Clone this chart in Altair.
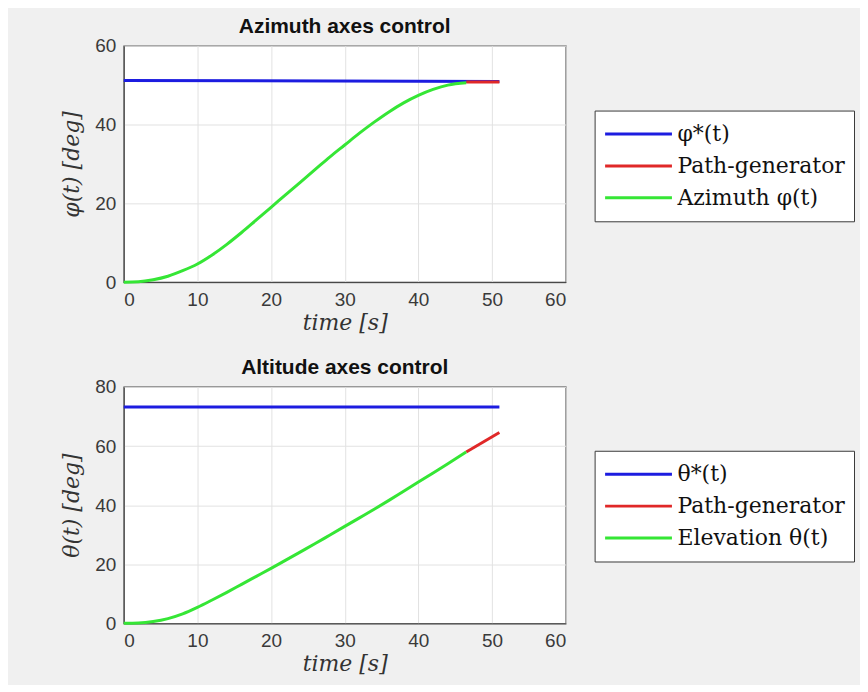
import altair as alt
import pandas as pd

# ---- data ----
az_t = [0, 2, 4, 6, 8, 10, 12, 14, 16, 18, 20, 22, 24, 26, 28, 30, 32, 34, 36, 38, 40, 42, 44, 46.5]
az_green = [0, 0.1, 0.6, 1.5, 2.9, 4.6, 6.9, 9.6, 12.6, 15.8, 19.0, 22.2, 25.4, 28.6, 31.8, 34.8,
            37.8, 40.6, 43.2, 45.5, 47.4, 48.9, 50.0, 50.6]
az_ref_t = [0, 51]
az_ref = [51.2, 50.9]
az_path_t = [46.5, 51]
az_path = [50.8, 50.8]

el_t = [0, 2, 4, 6, 8, 10, 12, 14, 16, 18, 20, 22, 24, 26, 28, 30, 32, 34, 36, 38, 40, 42, 44, 46.5]
el_green = [0, 0.1, 0.6, 1.6, 3.2, 5.4, 7.9, 10.5, 13.2, 15.9, 18.6, 21.4, 24.2, 27.0, 29.9, 32.8,
            35.7, 38.6, 41.6, 44.7, 47.8, 50.9, 54.0, 58.0]
el_ref_t = [0, 51]
el_ref = [73.2, 73.2]
el_path_t = [46.5, 51]
el_path = [58.0, 64.6]

az_labels = ["φ*(t)", "Path-generator", "Azimuth φ(t)"]
el_labels = ["θ*(t)", "Path-generator", "Elevation θ(t)"]
colors = ["#1c1ce0", "#e02828", "#35e635"]

x_ticks = [0, 10, 20, 30, 40, 50, 60]

PW, PH = 443, 237


def make_df(labels, ref_t, ref, path_t, path, t, green):
    rows = []
    for a, b in zip(ref_t, ref):
        rows.append({"t": a, "v": b, "s": labels[0]})
    for a, b in zip(path_t, path):
        rows.append({"t": a, "v": b, "s": labels[1]})
    for a, b in zip(t, green):
        rows.append({"t": a, "v": b, "s": labels[2]})
    return pd.DataFrame(rows)


def panel(df, labels, title, ytitle, ymax, yticks, legend_y):
    color = alt.Color(
        "s:N",
        scale=alt.Scale(domain=labels, range=colors),
        legend=alt.Legend(
            orient="none", legendX=472, legendY=legend_y, title=None,
            symbolType="stroke", symbolSize=4489, symbolStrokeWidth=3,
            labelFont="DejaVu Serif", labelFontSize=22, labelColor="#111111",
            fillColor="white", strokeColor="#3a3a3a", padding=9,
            clipHeight=29, rowPadding=3, labelOffset=4, labelLimit=400,
        ),
        sort=labels,
    )
    x = alt.X("t:Q", scale=alt.Scale(domain=[0, 60], nice=False),
              axis=alt.Axis(values=x_ticks, title="time [s]", titlePadding=3))
    y = alt.Y("v:Q", scale=alt.Scale(domain=[0, ymax], nice=False),
              axis=alt.Axis(values=yticks, title=ytitle, titlePadding=11))
    layers = []
    for lab in labels:
        layers.append(
            alt.Chart(df).transform_filter(alt.datum.s == lab)
            .mark_line(strokeWidth=3, interpolate="monotone")
            .encode(x=x, y=y, color=color)
        )
    return alt.layer(*layers).properties(
        width=PW, height=PH,
        title=alt.TitleParams(title, font="Liberation Sans", fontSize=21, fontWeight="bold",
                              color="#111111", offset=0),
    )


df_az = make_df(az_labels, az_ref_t, az_ref, az_path_t, az_path, az_t, az_green)
df_el = make_df(el_labels, el_ref_t, el_ref, el_path_t, el_path, el_t, el_green)

top = panel(df_az, az_labels, "Azimuth axes control", "φ(t) [deg]", 60, [0, 20, 40, 60], 65)
bot = panel(df_el, el_labels, "Altitude axes control", "θ(t) [deg]", 80, [0, 20, 40, 60, 80], 64)

chart = (
    alt.vconcat(top, bot, spacing=22)
    .resolve_scale(color="independent")
    .properties(background="#f0f0f0", padding={"left": 52, "top": 6, "right": 4, "bottom": 9})
    .configure_view(stroke="#333333", strokeWidth=1.2, fill="white")
    .configure_axis(
        labelFont="Liberation Sans", labelFontSize=19, labelColor="#3a3a3a",
        titleFont="DejaVu Serif", titleFontSize=22, titleFontStyle="italic",
        titleFontWeight="normal", titleColor="#333333",
        gridColor="#e2e2e2", domainColor="#333333", ticks=False,
        labelPadding=8,
    )
)

chart.save("out.html", embed_options={"renderer": "svg", "actions": False})
